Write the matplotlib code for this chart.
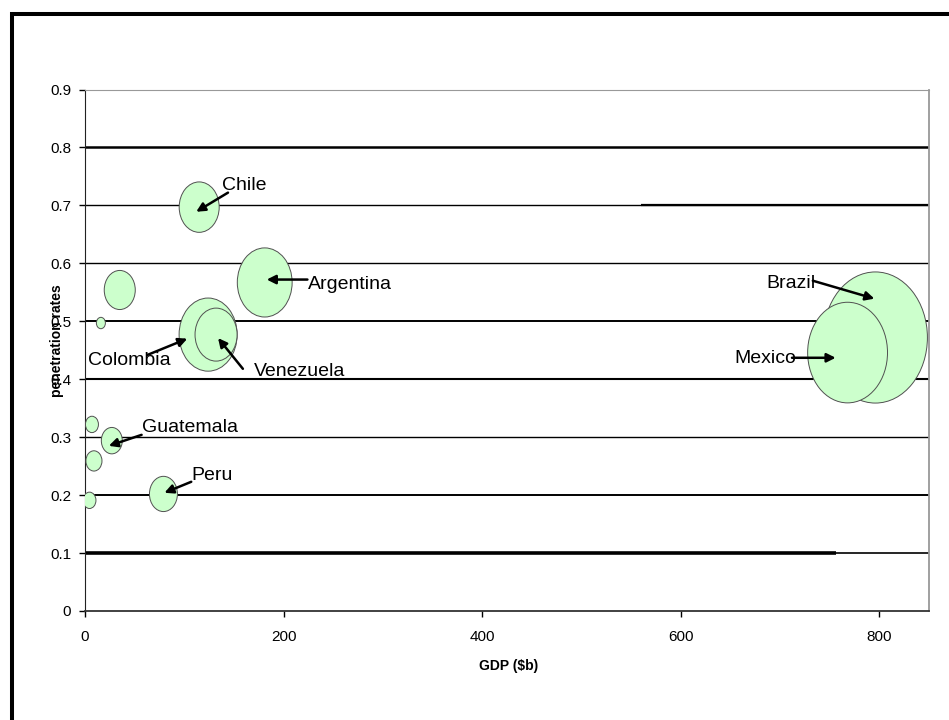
import numpy as np
import matplotlib
matplotlib.use('Agg')
import matplotlib.pyplot as plt
from matplotlib.patches import Ellipse
from matplotlib.lines import Line2D

plt.rcParams['font.family'] = ['Liberation Sans', 'DejaVu Sans']

# ── data ─────────────────────────────────────────────────────────────────────
countries = ['Brazil', 'Mexico', 'Colombia', 'Argentina', 'Venezuela', 'Chile',
             '', 'Peru', 'Guatemala', '', '', '', '']
gdp   = [796, 768, 124, 181, 132, 115, 35, 79, 27, 9, 7, 4.5, 16]
rate  = [0.472, 0.446, 0.477, 0.567, 0.477, 0.697, 0.554, 0.202, 0.294,
         0.259, 0.322, 0.191, 0.497]
size  = [180, 106, 56, 50, 29.4, 26.6, 16, 13, 7.3, 4.3, 2.8, 2.8, 1.35]

# label text position, arrow tail, arrow head (data coords)
label_pos = {
    'Chile':     ((138, 0.734), (144, 0.722), (112, 0.689)),
    'Argentina': ((225, 0.563), (224, 0.572), (183, 0.572)),
    'Venezuela': ((170, 0.414), (159, 0.418), (134, 0.471)),
    'Colombia':  ((3, 0.433), (63, 0.442), (103, 0.470)),
    'Guatemala': ((57, 0.316), (57, 0.304), (24, 0.285)),
    'Peru':      ((107, 0.233), (107, 0.223), (80, 0.204)),
    'Brazil':    ((686, 0.566), (733, 0.570), (795, 0.539)),
    'Mexico':    ((654, 0.435), (712, 0.437), (756, 0.437)),
}

yticks = [0, 0.1, 0.2, 0.3, 0.4, 0.5, 0.6, 0.7, 0.8, 0.9]
xticks = [0, 200, 400, 600, 800]

# ── figure ───────────────────────────────────────────────────────────────────
fig = plt.figure(figsize=(9.49, 7.2), dpi=100, facecolor='white')
ax = fig.add_axes([85 / 949, 1 - 611 / 720, 844 / 949, 521.5 / 720])
ax.set_xlim(0, 850)
ax.set_ylim(0, 0.9)

# gridlines (Excel's rendering: some heavier than others)
grid_w = {0.1: 1.2, 0.2: 1.4, 0.3: 1.0, 0.4: 1.5, 0.5: 1.4, 0.6: 1.0, 0.7: 1.0, 0.8: 1.8}
for yv, lw in grid_w.items():
    ax.axhline(yv, color='black', lw=lw, zorder=1)
ax.hlines(0.1, 0, 756, color='black', lw=2.6, zorder=1)
ax.hlines(0.7, 560, 850, color='black', lw=1.6, zorder=1)

# bubbles: diameter ~ sqrt(size), Excel stretches them vertically
kx = 104.8 / np.sqrt(180)
ky = 0.2263 / np.sqrt(180)
order = np.argsort(size)[::-1]
for i in order:
    d = np.sqrt(size[i])
    ax.add_patch(Ellipse((gdp[i], rate[i]), d * kx, d * ky,
                         facecolor='#CCFFCC', edgecolor='#505050', lw=0.7, zorder=3))

for name, (txt, tail, head) in label_pos.items():
    ax.text(txt[0], txt[1], name, fontsize=14, ha='left', va='center', zorder=5)
    ax.annotate('', xy=head, xytext=tail,
                arrowprops=dict(arrowstyle='-|>', color='black', lw=1.8,
                                mutation_scale=13, shrinkA=0, shrinkB=0),
                zorder=5)

ax.set_xticks(xticks)
ax.set_yticks(yticks)
ax.set_yticklabels(['0' if v == 0 else f'{v:.1f}' for v in yticks])
ax.tick_params(axis='both', direction='out', length=4, width=1, labelsize=11, pad=6)
ax.tick_params(axis='x', pad=10)

ax.spines['left'].set_color('#222222')
ax.spines['bottom'].set_color('#333333')
ax.spines['bottom'].set_linewidth(1.3)
ax.spines['top'].set_color('#999999')
ax.spines['right'].set_color('#999999')
ax.spines['right'].set_linewidth(1.3)

fig.text(509 / 949, 1 - 666 / 720, 'GDP ($b)', fontsize=10, fontweight='bold',
         ha='center', va='center')
fig.text(57 / 949, 1 - 341 / 720, 'penetration rates', fontsize=10, fontweight='bold',
         rotation=90, ha='center', va='center')

# outer frame (top and left edges only visible)
fig.add_artist(Line2D([10 / 949, 1], [1 - 14 / 720, 1 - 14 / 720], color='black',
                      lw=2.9, solid_capstyle='butt'))
fig.add_artist(Line2D([12 / 949, 12 / 949], [0, 1 - 12 / 720], color='black',
                      lw=2.9, solid_capstyle='butt'))

fig.savefig('out.png', dpi=100, facecolor='white')
